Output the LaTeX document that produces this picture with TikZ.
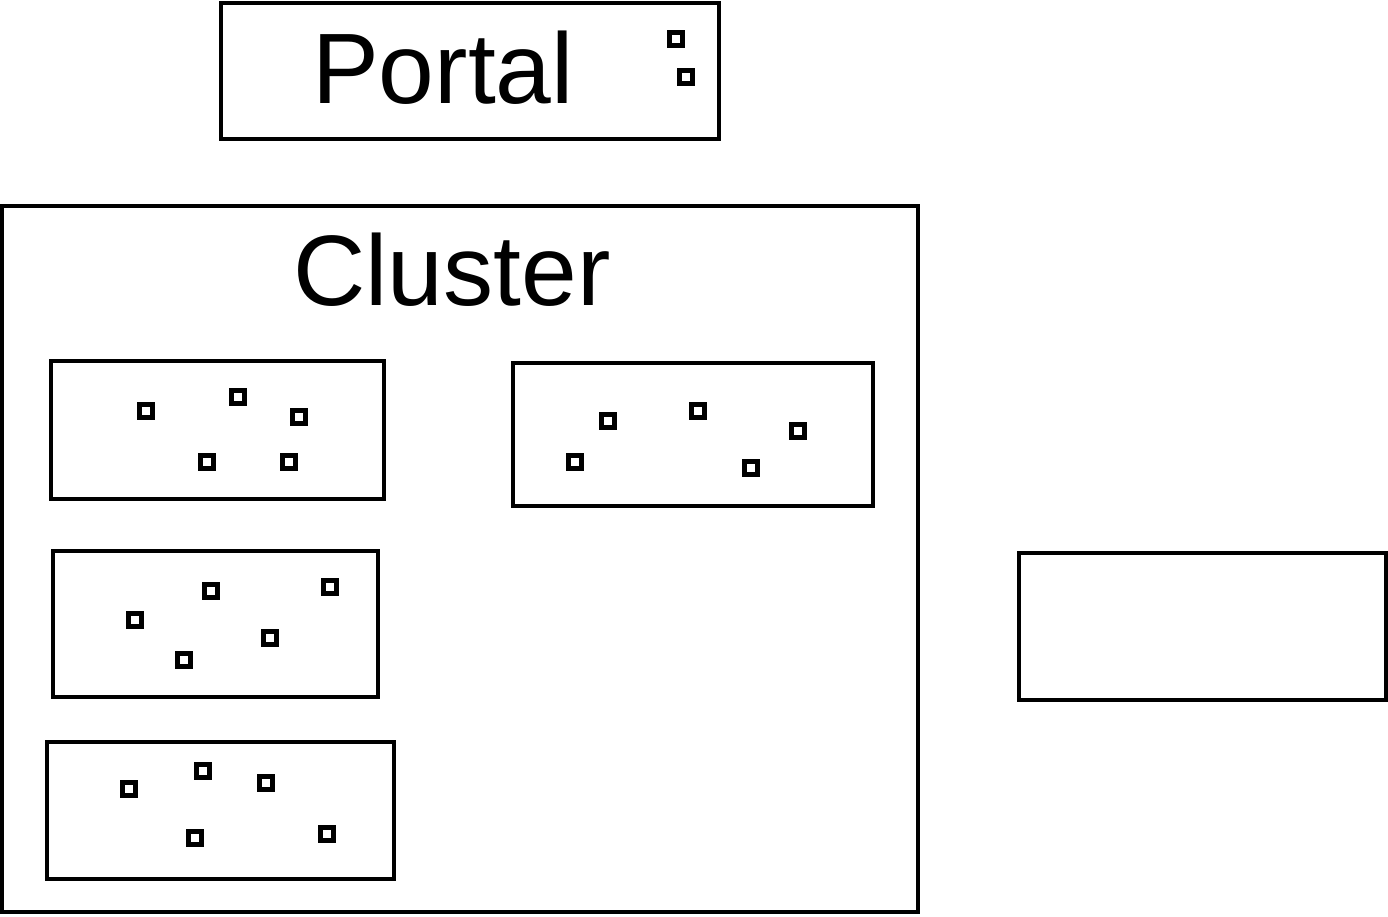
\documentclass[tikz,border=0pt]{standalone}
\usepackage{fontspec}
\setmainfont{Liberation Sans}
\tikzset{
    box/.style={draw, line width=0.08cm, inner sep=0pt},
    pod/.style={draw, line width=0.1cm, minimum size=0.26cm, inner sep=0pt},
    title/.style={anchor=base, font=\fontsize{57}{60}\selectfont}
}
\begin{document}
\begin{tikzpicture}[x=0.02cm, y=-0.02cm]
    \useasboundingbox (0,0) rectangle (1388,916);

    % portal
    \node[box, minimum width=9.96cm, minimum height=2.72cm] (portal) at (470,71) {};
    \node[title] (portaltext) at (443,103) {Portal};
    \node[pod] (p1) at (676,39) {};
    \node[pod] (p2) at (686,77) {};

    % cluster
    \node[box, minimum width=18.32cm, minimum height=14.12cm] (cluster) at (460,559) {};
    \node[title] (clustertext) at (452,305) {Cluster};

    \node[box, minimum width=6.66cm, minimum height=2.76cm] (node1) at (217.5,430) {};
    \node[pod] (a1) at (146,411) {};
    \node[pod] (a2) at (238,397) {};
    \node[pod] (a3) at (299,417) {};
    \node[pod] (a4) at (207,462) {};
    \node[pod] (a5) at (289,462) {};

    \node[box, minimum width=7.2cm, minimum height=2.86cm] (node2) at (693,434.5) {};
    \node[pod] (b1) at (608,421) {};
    \node[pod] (b2) at (698,411) {};
    \node[pod] (b3) at (798,431) {};
    \node[pod] (b4) at (575,462) {};
    \node[pod] (b5) at (751,468) {};

    \node[box, minimum width=6.5cm, minimum height=2.92cm] (node3) at (215.5,624) {};
    \node[pod] (c1) at (211,591) {};
    \node[pod] (c2) at (330,587) {};
    \node[pod] (c3) at (135,620) {};
    \node[pod] (c4) at (270,638) {};
    \node[pod] (c5) at (184,660) {};

    \node[box, minimum width=6.94cm, minimum height=2.74cm] (node4) at (220.5,810.5) {};
    \node[pod] (d1) at (203,771) {};
    \node[pod] (d2) at (129,789) {};
    \node[pod] (d3) at (266,783) {};
    \node[pod] (d4) at (195,838) {};
    \node[pod] (d5) at (327,834) {};

    % outside
    \node[box, minimum width=7.34cm, minimum height=2.94cm] (node5) at (1202.5,626.5) {};
\end{tikzpicture}
\end{document}
